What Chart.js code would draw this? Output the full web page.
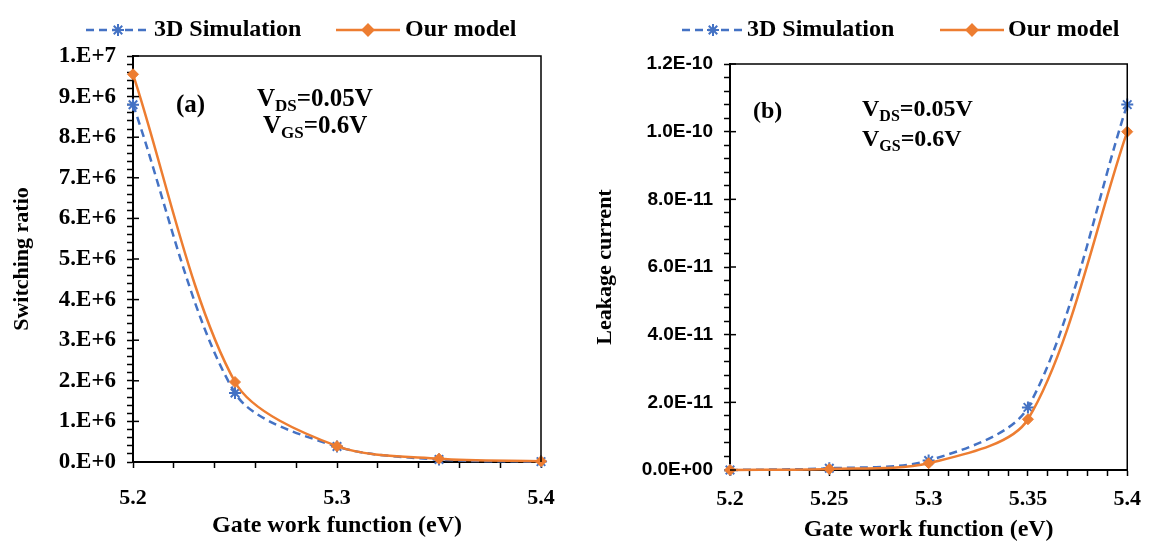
<!DOCTYPE html>
<html>
<head>
<meta charset="utf-8">
<script src="https://cdn.jsdelivr.net/npm/chart.js@4.4.1/dist/chart.umd.min.js"></script>
<style>
  html, body { margin: 0; padding: 0; background: #fff; }
  body { width: 1151px; height: 554px; position: relative; overflow: hidden; }
  canvas { position: absolute; top: 0; }
  #chartA { left: 0; }
  #chartB { left: 575px; }
</style>
</head>
<body>
<canvas id="chartA" width="575" height="554"></canvas>
<canvas id="chartB" width="576" height="554"></canvas>
<script>
// gate work function (eV), same for both panels
const workFunction = [5.2, 5.25, 5.3, 5.35, 5.4];

// (a) switching ratio
const ratioSim = [8.8e6, 1.7e6, 0.38e6, 0.06e6, 0.01e6];
const ratioModel = [9.55e6, 1.97e6, 0.39e6, 0.08e6, 0.02e6];

// (b) leakage current
const leakSim = [0, 0.05e-11, 0.28e-11, 1.85e-11, 10.8e-11];
const leakModel = [0, 0.03e-11, 0.2e-11, 1.5e-11, 10.0e-11];

const seriesNames = ['3D Simulation', 'Our model'];

// tick labels (major ticks only, minor ticks in between)
const ratioTickLabels = ['0.E+0', '1.E+6', '2.E+6', '3.E+6', '4.E+6', '5.E+6', '6.E+6', '7.E+6', '8.E+6', '9.E+6', '1.E+7'];
const leakTickLabels = ['0.0E+00', '2.0E-11', '4.0E-11', '6.0E-11', '8.0E-11', '1.0E-10', '1.2E-10'];
const xTickLabelsA = ['5.2', '5.3', '5.4'];
const xTickLabelsB = ['5.2', '5.25', '5.3', '5.35', '5.4'];

const SERIF = "'Liberation Serif', 'Times New Roman', serif";
const SANS = "'Liberation Sans', Arial, sans-serif";
const BLUE = '#4472C4';
const ORANGE = '#ED7D31';

function points(ys) {
    return workFunction.map((x, i) => ({ x: x, y: ys[i] }));
}

// every 5th tick is a major one with a label
function majorLabel(labels) {
    return function (value, index) {
        return index % 5 === 0 ? labels[index / 5] : '';
    };
}

// top/right frame + inward half of major y ticks
const framePlugin = {
    id: 'frame',
    afterDraw(chart) {
        const { ctx, chartArea } = chart;
        const y = chart.scales.y;
        ctx.save();
        ctx.strokeStyle = '#000';
        ctx.lineWidth = 1.5;
        ctx.beginPath();
        ctx.moveTo(chartArea.left, chartArea.top);
        ctx.lineTo(chartArea.right, chartArea.top);
        ctx.lineTo(chartArea.right, chartArea.bottom);
        ctx.stroke();
        y.ticks.forEach((t, i) => {
            if (i % 5 !== 0) return;
            const py = y.getPixelForValue(t.value);
            ctx.beginPath();
            ctx.moveTo(chartArea.left, py);
            ctx.lineTo(chartArea.left + 6, py);
            ctx.stroke();
        });
        ctx.restore();
    }
};

// legend drawn as line sample + marker + text
const legendPlugin = {
    id: 'sampleLegend',
    afterDraw(chart, args, opts) {
        const ctx = chart.ctx;
        ctx.save();
        chart.data.datasets.forEach((ds, i) => {
            const it = opts.items[i];
            ctx.strokeStyle = ds.borderColor;
            ctx.fillStyle = ds.backgroundColor;
            ctx.lineWidth = 2.5;
            ctx.setLineDash(ds.borderDash || []);
            ctx.beginPath();
            ctx.moveTo(it.x0, opts.y);
            ctx.lineTo(it.x1, opts.y);
            ctx.stroke();
            ctx.setLineDash([]);
            ctx.lineWidth = 2;
            Chart.helpers.drawPoint(ctx, { pointStyle: ds.pointStyle, radius: ds.pointRadius, borderWidth: 2, rotation: 0 }, (it.x0 + it.x1) / 2, opts.y);
            ctx.fillStyle = '#000';
            ctx.font = 'bold 24px ' + SERIF;
            ctx.textBaseline = 'middle';
            ctx.textAlign = 'left';
            ctx.fillText(ds.label, it.tx, opts.y);
        });
        ctx.restore();
    }
};

// panel letter and bias conditions
const notePlugin = {
    id: 'notes',
    afterDraw(chart, args, opts) {
        const ctx = chart.ctx;
        ctx.save();
        ctx.fillStyle = '#000';
        ctx.textBaseline = 'alphabetic';
        ctx.textAlign = 'left';
        ctx.font = 'bold ' + opts.size + 'px ' + SERIF;
        ctx.fillText(opts.letter, opts.letterX, opts.letterY);
        opts.lines.forEach((ln) => {
            let x = ln.x;
            ctx.font = 'bold ' + opts.size + 'px ' + SERIF;
            ctx.fillText('V', x, ln.y);
            x += ctx.measureText('V').width;
            ctx.font = 'bold ' + Math.round(opts.size * 0.68) + 'px ' + SERIF;
            ctx.fillText(ln.sub, x, ln.y + 5);
            x += ctx.measureText(ln.sub).width;
            ctx.font = 'bold ' + opts.size + 'px ' + SERIF;
            ctx.fillText(ln.rest, x, ln.y);
        });
        ctx.restore();
    }
};

function makeChart(id, cfg) {
    const ctx = document.getElementById(id).getContext('2d');
    return new Chart(ctx, {
        type: 'line',
        data: {
            datasets: [{
                label: seriesNames[0],
                data: points(cfg.sim),
                borderColor: BLUE,
                backgroundColor: BLUE,
                borderDash: [8, 5],
                borderWidth: 2.5,
                pointStyle: 'star',
                pointRadius: 6,
                pointBorderWidth: 2,
                tension: cfg.tension,
                clip: false,
                order: 1
            }, {
                label: seriesNames[1],
                data: points(cfg.model),
                borderColor: ORANGE,
                backgroundColor: ORANGE,
                borderWidth: 2.5,
                pointStyle: 'rectRot',
                pointRadius: 5.5,
                pointBorderWidth: 1,
                tension: cfg.tension,
                clip: false,
                order: 0
            }]
        },
        plugins: [framePlugin, legendPlugin, notePlugin],
        options: {
            responsive: false,
            animation: false,
            layout: { padding: { left: 0, right: cfg.padRight, top: cfg.padTop, bottom: 0 } },
            scales: {
                x: {
                    type: 'linear',
                    min: 5.2,
                    max: 5.4,
                    afterFit: (s) => { s.height = cfg.xHeight; },
                    ticks: {
                        stepSize: cfg.xStep,
                        autoSkip: false,
                        maxRotation: 0,
                        padding: cfg.xTickPad,
                        color: '#000',
                        font: { family: SERIF, size: 22, weight: 'bold' },
                        callback: majorLabel(cfg.xLabels)
                    },
                    grid: { drawOnChartArea: false, drawTicks: true, tickLength: 6, tickColor: '#000', tickWidth: 1.5 },
                    border: { display: true, color: '#000', width: 2 },
                    title: {
                        display: true,
                        text: 'Gate work function (eV)',
                        color: '#000',
                        font: { family: SERIF, size: 24, weight: 'bold' },
                        padding: { top: 0, bottom: cfg.xTitlePad }
                    }
                },
                y: {
                    min: 0,
                    max: cfg.yMax,
                    afterFit: (s) => { s.width = cfg.yWidth; },
                    ticks: {
                        stepSize: cfg.yStep,
                        autoSkip: false,
                        padding: 11,
                        color: '#000',
                        font: cfg.yFont,
                        callback: majorLabel(cfg.yLabels)
                    },
                    grid: { drawOnChartArea: false, drawTicks: true, tickLength: 6, tickColor: '#000', tickWidth: 1.5 },
                    border: { display: true, color: '#000', width: 2 },
                    title: {
                        display: true,
                        text: cfg.yTitle,
                        color: '#000',
                        font: { family: SERIF, size: 22, weight: 'bold' },
                        padding: { top: cfg.yTitlePad, bottom: 0 }
                    }
                }
            },
            plugins: {
                legend: { display: false },
                tooltip: { enabled: false },
                sampleLegend: cfg.legend,
                notes: cfg.notes
            }
        }
    });
}

makeChart('chartA', {
    sim: ratioSim,
    model: ratioModel,
    tension: 0.3,
    yMax: 1e7,
    yStep: 2e5,
    yLabels: ratioTickLabels,
    yFont: { family: SERIF, size: 23, weight: 'bold' },
    yTitle: 'Switching ratio',
    yTitlePad: 9,
    yWidth: 133,
    xStep: 0.02,
    xLabels: xTickLabelsA,
    xHeight: 92,
    xTickPad: 17,
    xTitlePad: 14,
    padRight: 34,
    padTop: 56,
    legend: { y: 30, items: [{ x0: 86, x1: 150, tx: 154 }, { x0: 336, x1: 400, tx: 405 }] },
    notes: {
        size: 25, letter: '(a)', letterX: 176, letterY: 112,
        lines: [{ x: 257, y: 106, sub: 'DS', rest: '=0.05V' }, { x: 263, y: 133, sub: 'GS', rest: '=0.6V' }]
    }
});

makeChart('chartB', {
    sim: leakSim,
    model: leakModel,
    tension: 0.3,
    yMax: 1.2e-10,
    yStep: 4e-12,
    yLabels: leakTickLabels,
    yFont: { family: SANS, size: 19, weight: 'bold' },
    yTitle: 'Leakage current',
    yTitlePad: 17,
    yWidth: 155,
    xStep: 0.01,
    xLabels: xTickLabelsB,
    xHeight: 84,
    xTickPad: 10,
    xTitlePad: 10,
    padRight: 19,
    padTop: 64,
    legend: { y: 30, items: [{ x0: 107, x1: 169, tx: 172 }, { x0: 365, x1: 429, tx: 433 }] },
    notes: {
        size: 24, letter: '(b)', letterX: 178, letterY: 118,
        lines: [{ x: 287, y: 116, sub: 'DS', rest: '=0.05V' }, { x: 287, y: 146, sub: 'GS', rest: '=0.6V' }]
    }
});
</script>
</body>
</html>
